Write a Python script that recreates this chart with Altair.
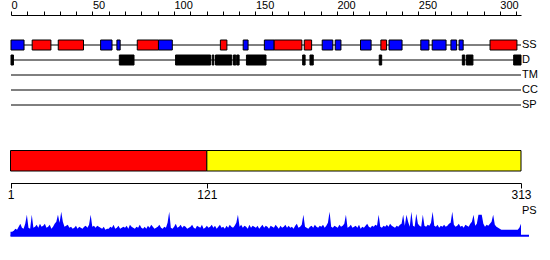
import altair as alt
import pandas as pd

FONT = "Liberation Sans"

TRACKS = ["SS", "D", "TM", "CC", "SP"]
SEQ_START = 0
SEQ_END = 313

# secondary structure elements (H = helix red, E = strand blue)
SS_START = [0, 13, 29, 55, 65, 77.5, 90.5, 128.5, 142.5, 155.5, 161.5, 180, 191, 199, 214.5, 227, 232, 251.5, 258.5, 270, 275, 294]
SS_END = [8, 24.5, 44.5, 62, 67, 90.5, 99, 132.5, 145.5, 161.5, 178.5, 184.5, 197.5, 202.5, 221, 230.5, 240, 256.5, 267, 273.5, 277.5, 310.5]
SS_TYPE = ["E", "H", "H", "E", "E", "H", "E", "H", "E", "E", "H", "H", "E", "E", "E", "H", "E", "E", "E", "E", "E", "H"]

# disordered regions
D_START = [0, 66.5, 101, 123.5, 125.5, 136.5, 138.5, 144.5, 179, 183.5, 226, 277, 279.5, 308.5]
D_END = [1.5, 75.5, 122.5, 124.5, 135.5, 138, 140, 156.5, 180.5, 185.5, 227.5, 278.5, 283.5, 313]

# domains
DOM_NAME = ["Domain 1", "Domain 2"]
DOM_START = [1, 121]
DOM_END = [121, 313]

TOP_TICKS = [0, 10, 20, 30, 40, 50, 60, 70, 80, 90, 100, 110, 120, 130, 140, 150,
             160, 170, 180, 190, 200, 210, 220, 230, 240, 250, 260, 270, 280, 290, 300, 310]
BOTTOM_TICKS = [1, 121, 313]

PS = [
    4, 4, 5, 7, 6, 9, 12, 8, 7, 12,
    21, 8, 7, 21, 8, 9, 11, 8, 12, 9,
    10, 12, 8, 9, 11, 7, 9, 12, 14, 21,
    13, 24, 14, 9, 10, 11, 8, 9, 7, 8,
    10, 7, 9, 8, 7, 9, 10, 8, 11, 21,
    9, 10, 8, 10, 9, 8, 7, 9, 6, 7,
    7, 9, 8, 11, 7, 8, 10, 7, 8, 9,
    8, 10, 7, 11, 9, 8, 7, 9, 8, 11,
    8, 7, 9, 7, 10, 8, 11, 9, 7, 8,
    9, 11, 8, 7, 9, 8, 13, 24, 8, 7,
    9, 12, 8, 9, 11, 8, 10, 9, 7, 8,
    9, 11, 8, 7, 10, 9, 8, 11, 7, 8,
    10, 8, 9, 11, 8, 10, 7, 9, 11, 8,
    9, 7, 10, 8, 11, 9, 8, 10, 13, 21,
    9, 11, 8, 10, 9, 7, 11, 8, 10, 9,
    8, 10, 7, 9, 11, 8, 10, 9, 7, 10,
    9, 8, 11, 9, 7, 10, 8, 9, 11, 8,
    10, 8, 9, 7, 10, 12, 8, 9, 11, 21,
    9, 8, 7, 9, 10, 8, 11, 9, 8, 10,
    9, 11, 8, 10, 13, 24, 9, 8, 10, 9,
    8, 11, 9, 10, 12, 21, 8, 9, 11, 8,
    9, 10, 8, 11, 7, 9, 8, 10, 12, 9,
    8, 10, 9, 11, 10, 21, 9, 8, 10, 9,
    11, 9, 12, 10, 9, 8, 10, 9, 11, 12,
    21, 10, 21, 14, 9, 24, 10, 9, 22, 12,
    10, 9, 21, 10, 9, 11, 10, 13, 24, 10,
    9, 11, 8, 10, 9, 11, 9, 10, 12, 13,
    24, 11, 9, 10, 12, 9, 10, 8, 11, 10,
    9, 12, 14, 21, 10, 12, 21, 21, 21, 12,
    9, 11, 10, 12, 14, 21, 11, 9, 8, 7,
    6, 6, 6, 6, 6, 6, 6, 6, 6, 6,
    6, 8, 12,
]

tracks_df = pd.DataFrame({"track": TRACKS, "start": SEQ_START, "end": SEQ_END})
ss_df = pd.DataFrame({"start": SS_START, "end": SS_END, "type": SS_TYPE, "track": "SS"})
d_df = pd.DataFrame({"start": D_START, "end": D_END, "track": "D"})
dom_df = pd.DataFrame({"name": DOM_NAME, "start": DOM_START, "end": DOM_END, "row": "domain"})
ps_df = pd.DataFrame({"res": list(range(1, len(PS) + 1)), "ps": PS})
ps_base_df = pd.DataFrame({"start": [1], "end": [len(PS)], "base": [0], "label": ["PS"], "ly": [24.5]})

top_x = alt.Scale(domain=[0, 313], range=[11, 521], nice=False, zero=False)
track_y = alt.Scale(type="band", domain=TRACKS, range=[37.5, 112.5], paddingInner=0, paddingOuter=0)
bot_x = alt.Scale(domain=[1, 313], range=[10.5, 521], nice=False, zero=False)
dom_y = alt.Scale(type="band", domain=["domain"], range=[150.5, 171], paddingInner=0, paddingOuter=0)
ps_y = alt.Scale(domain=[0, 25], range=[235.7, 210.7], nice=False, zero=False)

top_axis = alt.Axis(
    orient="top", offset=-15, values=TOP_TICKS,
    labelExpr="datum.value % 50 === 0 ? datum.label : ''",
    tickSize=4, labelAlign="left", labelBaseline="bottom", labelPadding=1,
    labelFlush=False, labelOverlap=False, grid=False, title=None,
    domainColor="black", tickColor="black", labelColor="black",
    labelFont=FONT, labelFontSize=11, domainWidth=1, tickWidth=1,
)
bottom_axis = alt.Axis(
    orient="bottom", offset=-77, values=BOTTOM_TICKS,
    tickSize=5, labelPadding=1, labelFlush=False, labelOverlap=False,
    grid=False, title=None, domainColor="black", tickColor="black",
    labelColor="black", labelFont=FONT, labelFontSize=12,
    domainWidth=1, tickWidth=1,
)

track_lines = alt.Chart(tracks_df).mark_rule(color="black", strokeWidth=1).encode(
    x=alt.X("start:Q", scale=top_x, axis=top_axis),
    x2="end:Q",
    y=alt.Y("track:N", scale=track_y, axis=None),
)
track_labels = alt.Chart(tracks_df).mark_text(
    align="left", baseline="middle", dx=1, font=FONT, fontSize=11, color="black"
).encode(
    x=alt.X("end:Q", scale=top_x, axis=None),
    y=alt.Y("track:N", scale=track_y, axis=None),
    text="track:N",
)
ss_rects = alt.Chart(ss_df).mark_bar(height=10, stroke="black", strokeWidth=1, opacity=1).encode(
    x=alt.X("start:Q", scale=top_x, axis=None),
    x2="end:Q",
    y=alt.Y("track:N", scale=track_y, axis=None),
    color=alt.Color("type:N", scale=alt.Scale(domain=["H", "E"], range=["#FF0000", "#0000FF"]), legend=None),
)
d_rects = alt.Chart(d_df).mark_bar(height=10, stroke="black", strokeWidth=1, color="black", opacity=1).encode(
    x=alt.X("start:Q", scale=top_x, axis=None),
    x2="end:Q",
    y=alt.Y("track:N", scale=track_y, axis=None),
)

dom_rects = alt.Chart(dom_df).mark_rect(stroke="black", strokeWidth=1, opacity=1).encode(
    x=alt.X("start:Q", scale=bot_x, axis=bottom_axis),
    x2="end:Q",
    y=alt.Y("row:N", scale=dom_y, axis=None),
    color=alt.Color("name:N", scale=alt.Scale(domain=DOM_NAME, range=["#FF0000", "#FFFF00"]), legend=None),
)

ps_area = alt.Chart(ps_df).mark_area(color="#0000FF", interpolate="linear", opacity=1).encode(
    x=alt.X("res:Q", scale=bot_x, axis=None),
    y=alt.Y("ps:Q", scale=ps_y, axis=None),
)
ps_base = alt.Chart(ps_base_df).mark_rule(color="#0000FF", strokeWidth=2, x2Offset=8).encode(
    x=alt.X("start:Q", scale=bot_x, axis=None),
    x2="end:Q",
    y=alt.Y("base:Q", scale=ps_y, axis=None),
)
ps_label = alt.Chart(ps_base_df).mark_text(
    align="left", baseline="middle", dx=1, font=FONT, fontSize=11, color="black"
).encode(
    x=alt.X("end:Q", scale=bot_x, axis=None),
    y=alt.Y("ly:Q", scale=ps_y, axis=None),
    text="label:N",
)

chart = alt.layer(
    track_lines, ss_rects, d_rects, track_labels, dom_rects, ps_area, ps_base, ps_label
).resolve_scale(
    x="independent", y="independent", color="independent"
).properties(
    width=550, height=260, autosize=alt.AutoSizeParams(type="none"), padding=0,
    background="white",
).configure_view(stroke=None)

chart.save("out.html", embed_options={"renderer": "svg", "actions": False})
